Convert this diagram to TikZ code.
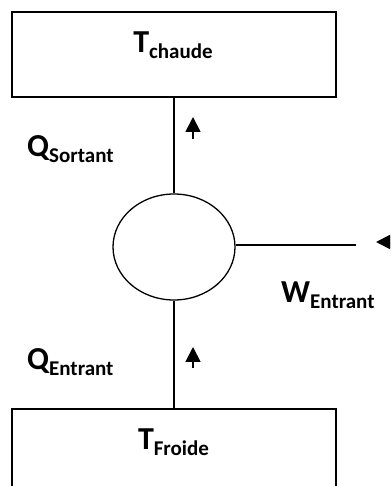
\documentclass[tikz,border=0pt]{standalone}
\usepackage{fontspec}
\setmainfont{Carlito}
\usetikzlibrary{arrows.meta,positioning,shapes.geometric}
\newcommand{\subtxt}[1]{\raisebox{-5.5pt}{\fontsize{21}{25}\selectfont #1}}

\begin{document}
\begin{tikzpicture}[x=1pt, y=1pt,
  resbox/.style={rectangle, draw, line width=1.6pt, minimum width=324pt,
                 inner sep=0pt},
  engbox/.style={ellipse, draw, line width=1.3pt, minimum width=122pt,
                 minimum height=106pt, inner sep=0pt},
  lbl/.style={font=\fontsize{32}{38}\selectfont\bfseries, inner sep=0pt},
  wire/.style={line width=1.5pt},
  flow/.style={-{Triangle[length=15pt, width=15pt]}, line width=1.8pt}
]
\clip (0,0) rectangle (390,486);

% Reservoirs
\node[resbox, minimum height=85pt] (hot)  at (174,431.5) {};
\node[resbox, minimum height=97pt] (cold) at (174,28.5)  {};
\node[lbl, anchor=base] (hotlbl)  at (173,433) {T\subtxt{chaude}};
\node[lbl, anchor=base] (coldlbl) at (173.5,36) {T\subtxt{Froide}};

% Engine
\node[engbox] (eng) at (174,239) {};

% Connectors
\coordinate (wend) at (356,241);
\draw[wire] (hot.south) -- (eng.north);
\draw[wire] (eng.south) -- (cold.north);
\draw[wire] (eng.east |- wend) -- (wend);

% Flow arrows
\coordinate (qs0) at (193,347);
\coordinate (qs1) at (193,369);
\coordinate (qe0) at (193,118);
\coordinate (qe1) at (193,139);
\coordinate (w0)  at (393,244);
\coordinate (w1)  at (376,244);
\draw[flow] (qs0) -- (qs1);
\draw[flow] (qe0) -- (qe1);
\draw[flow] (w0)  -- (w1);

% Labels
\node[lbl, anchor=base west] (qslbl) at (27,329) {Q\subtxt{Sortant}};
\node[lbl, anchor=base west] (qelbl) at (27,116) {Q\subtxt{Entrant}};
\node[lbl, anchor=base west] (wlbl)  at (281,183) {W\subtxt{Entrant}};
\end{tikzpicture}
\end{document}
